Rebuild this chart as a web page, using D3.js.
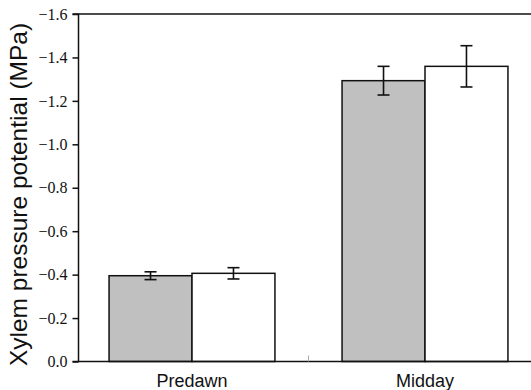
<!DOCTYPE html>
<html lang="en">

<head>
    <meta charset="UTF-8">
    <title>Xylem pressure potential</title>
    <script src="https://d3js.org/d3.v7.min.js"></script>
    <style>
        body { margin: 0; background: #fff; }
        svg { display: block; }
    </style>
</head>

<body>
    <svg id="svg" width=531 height=390></svg>
</body>
<script>
    // data
    const periods = ["Predawn", "Midday"];
    const series = ["gray", "white"];
    const means = [[-0.395, -0.406], [-1.293, -1.359]];
    const errors = [[0.018, 0.026], [0.066, 0.095]];
    const yTicks = [0, -0.2, -0.4, -0.6, -0.8, -1.0, -1.2, -1.4, -1.6];
    const fills = ["#c0c0c0", "#ffffff"];

    const svg = d3.select("#svg");
    const plotLeft = 78.5, plotTop = 14, plotBottom = 361.5;
    const serif = "'Times New Roman', Times, 'Liberation Serif', 'DejaVu Serif', serif";
    const sans = "'Liberation Sans', Arial, sans-serif";

    const y = d3.scaleLinear().domain([0, -1.6]).range([plotBottom, plotTop]);
    const x = d3.scaleBand().domain(periods).range([75.5, 541.5]);
    const bw = x.bandwidth();
    const xs = d3.scaleBand().domain(series).range([bw * 0.144, bw * 0.856]);

    // bars
    const groups = svg.append("g").selectAll("g")
        .data(periods)
        .join("g")
        .attr("transform", d => `translate(${x(d)},0)`);

    groups.each(function (p, i) {
        const g = d3.select(this);
        series.forEach((s, j) => {
            const v = means[i][j];
            g.append("rect")
                .attr("x", xs(s))
                .attr("y", y(v))
                .attr("width", xs.bandwidth())
                .attr("height", y(0) - y(v))
                .attr("fill", fills[j])
                .attr("stroke", "#111")
                .attr("stroke-width", 1.5);
        });
    });

    // error bars
    groups.each(function (p, i) {
        const g = d3.select(this);
        series.forEach((s, j) => {
            const cx = xs(s) + xs.bandwidth() / 2;
            const hi = y(means[i][j] - errors[i][j]);
            const lo = y(means[i][j] + errors[i][j]);
            g.append("line").attr("x1", cx).attr("x2", cx).attr("y1", hi).attr("y2", lo);
            g.append("line").attr("x1", cx - 6).attr("x2", cx + 6).attr("y1", hi).attr("y2", hi);
            g.append("line").attr("x1", cx - 6).attr("x2", cx + 6).attr("y1", lo).attr("y2", lo);
        });
        g.selectAll("line").attr("stroke", "#111").attr("stroke-width", 1.6);
    });

    // frame lines
    svg.append("line")
        .attr("x1", plotLeft).attr("x2", 531).attr("y1", plotTop).attr("y2", plotTop)
        .attr("stroke", "#111").attr("stroke-width", 1.5);
    svg.append("line")
        .attr("x1", plotLeft).attr("x2", 531).attr("y1", plotBottom).attr("y2", plotBottom)
        .attr("stroke", "#111").attr("stroke-width", 1.5);

    // faint category divider tick
    svg.append("line")
        .attr("x1", x("Midday")).attr("x2", x("Midday"))
        .attr("y1", plotBottom - 6).attr("y2", plotBottom)
        .attr("stroke", "#aaa").attr("stroke-width", 1);

    // y axis
    const yAxis = svg.append("g")
        .attr("transform", `translate(${plotLeft},0)`)
        .call(d3.axisLeft(y).tickValues(yTicks).tickFormat(d3.format(".1f")).tickSize(6).tickPadding(5));
    yAxis.attr("font-family", serif).attr("font-size", 16);
    yAxis.selectAll("path, line").attr("stroke", "#111").attr("stroke-width", 1.5);
    yAxis.select(".domain").attr("d", `M-6,${plotTop}H0V${plotBottom}H-6`);
    yAxis.selectAll("text")
        .attr("fill", "#111")
        .style("font-family", serif)
        .style("font-size", "16px");

    // x labels
    svg.append("g").selectAll("text")
        .data(periods)
        .join("text")
        .attr("x", d => x(d) + bw / 2)
        .attr("y", 387)
        .attr("text-anchor", "middle")
        .style("font-family", sans)
        .style("font-size", "18px")
        .attr("fill", "#111")
        .text(d => d);

    // y title
    svg.append("text")
        .attr("transform", "translate(26.5,194.5) rotate(-90)")
        .attr("text-anchor", "middle")
        .style("font-family", sans)
        .style("font-size", "24.5px")
        .attr("fill", "#111")
        .text("Xylem pressure potential (MPa)");
</script>

</html>
